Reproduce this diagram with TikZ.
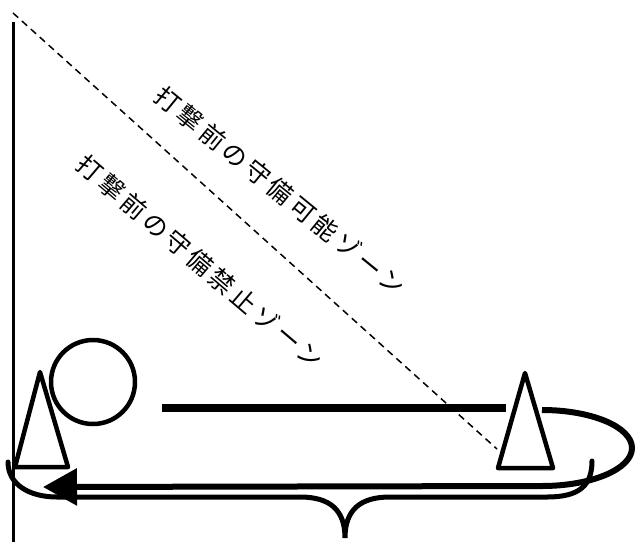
\documentclass[tikz,border=0pt]{standalone}
\usepackage{fontspec}
\newfontfamily\jpfont[LetterSpace=16]{Noto Sans CJK JP}
\usetikzlibrary{arrows.meta}
\tikzset{
  shapeline/.style={line width=4.5pt, line join=round},
  zonetext/.style={font=\jpfont\fontsize{25}{25}\selectfont, inner sep=0pt}
}
\begin{document}
\begin{tikzpicture}[x=1pt,y=-1pt]
\useasboundingbox (0,0) rectangle (635,542);
% wall
\draw[line width=3pt] (13,22) -- (13,542);
% dashed diagonal
\draw[line width=1.5pt, dash pattern=on 7pt off 5pt] (13,13) -- (497,449);
% texts
\node[zonetext, rotate=-39.2] (t1) at (280,191) {打撃前の守備可能ゾーン};
\node[zonetext, rotate=-40.4] (t2) at (200,262) {打撃前の守備禁止ゾーン};
% ball
\draw[shapeline] (93,382) circle[radius=42];
% cones
\draw[shapeline] (40,372) -- (15,467) -- (68,467) -- cycle;
\draw[shapeline] (525,373) -- (498,468) -- (553,468) -- cycle;
% thick line
\draw[line width=8pt] (162,408) -- (506,408);
% loop and arrow
\draw[line width=6pt, -{Triangle[length=34pt,width=36pt]}]
  (542,410) arc[start angle=-90, end angle=90, x radius=90, y radius=38]
  -- (43,487);
% brace
\draw[line width=5pt, line cap=round]
  (8,462) .. controls (8,485) and (30,497) .. (57,497) -- (300,497)
  .. controls (330,497) and (345,510) .. (345,538)
  .. controls (345,510) and (360,497) .. (390,497) -- (547,497)
  .. controls (580,497) and (592,485) .. (592,461);
\end{tikzpicture}
\end{document}
